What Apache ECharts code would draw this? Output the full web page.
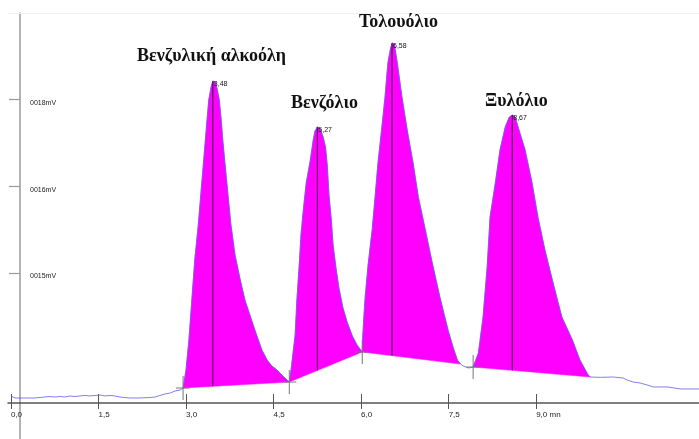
<!DOCTYPE html>
<html><head><meta charset="utf-8">
<script src="https://cdn.jsdelivr.net/npm/echarts@6/dist/echarts.min.js"></script>
<style>html,body{margin:0;padding:0;background:#fff}#c{width:699px;height:439px}</style>
</head><body><div id="c"></div>
<script>
// retention time (min) of the detector trace
const times = [
  0.00,0.07,0.24,0.41,0.58,0.67,0.75,0.84,0.93,1.01,1.10,1.18,1.27,1.35,1.44,1.53,1.61,1.70,1.78,1.87,1.95,2.04,2.21,2.38,2.47,2.55,2.64,2.73,2.81,2.90,
  2.95,3.00,3.05,3.10,3.15,3.21,3.26,3.31,3.36,3.39,3.43,3.46,3.50,3.53,3.57,3.60,3.63,3.67,3.72,3.77,3.84,3.93,4.01,4.10,4.18,4.30,4.39,4.47,4.56,4.66,
  4.77,4.80,4.83,4.87,4.90,4.94,4.97,5.01,5.06,5.13,5.18,5.21,5.25,5.30,5.35,5.39,5.42,5.45,5.49,5.52,5.57,5.62,5.69,5.76,5.85,5.93,
  6.02,6.03,6.05,6.07,6.12,6.19,6.24,6.29,6.36,6.41,6.46,6.50,6.53,6.57,6.62,6.70,6.79,6.89,6.98,7.10,7.22,7.35,7.49,7.58,7.65,
  7.70,7.75,7.84,
  7.92,8.01,8.09,8.16,8.21,8.30,8.38,8.47,8.54,8.59,8.64,8.69,8.81,8.93,9.03,9.15,9.29,9.44,9.62,9.75,9.89,
  9.93,10.10,10.32,10.49,10.56,10.66,10.78,10.90,11.01,11.25,11.47,11.69,11.79
];
// detector signal (axis units)
const signal = [
  0.081,0.058,0.058,0.058,0.069,0.075,0.069,0.075,0.069,0.081,0.075,0.081,0.087,0.081,0.087,0.092,0.081,0.087,0.081,0.069,0.063,0.058,0.058,0.063,0.069,0.087,0.104,0.115,0.138,0.150,
  0.173,0.381,0.727,1.188,1.650,2.054,2.458,2.861,3.265,3.496,3.646,3.715,3.704,3.635,3.496,3.288,3.035,2.746,2.400,2.054,1.708,1.419,1.188,1.004,0.842,0.612,0.496,0.427,0.381,0.312,
  0.242,0.381,0.554,0.785,1.188,1.592,1.938,2.227,2.538,2.804,3.035,3.138,3.185,3.162,3.069,2.954,2.746,2.400,2.111,1.823,1.558,1.327,1.096,0.935,0.773,0.669,
  0.588,0.785,1.015,1.223,1.592,2.000,2.381,2.773,3.208,3.531,3.927,4.077,4.154,4.142,3.927,3.531,3.150,2.773,2.381,2.000,1.615,1.223,0.842,0.635,0.496,
  0.450,0.427,0.404,
  0.415,0.577,0.992,1.569,2.146,2.538,2.919,3.185,3.300,3.323,3.300,3.185,2.919,2.538,2.146,1.765,1.385,0.992,0.727,0.496,0.323,
  0.300,0.296,0.300,0.288,0.265,0.242,0.231,0.208,0.185,0.185,0.162,0.162,0.162
];
const peakStart = [2.95, 4.77, 6.02, 7.92];
const peakEnd   = [4.77, 6.02, 7.70, 9.93];
const peakApex  = [3.46, 5.25, 6.53, 8.59];
const peakRT    = ['3,48', '5,27', '6,58', '8,67'];
const peakNames = ['Βενζυλική αλκοόλη', 'Βενζόλιο', 'Τολουόλιο', 'Ξυλόλιο'];
const boundaryMarks = [2.95, 4.77, 6.02, 7.92];
const xTickValues = [0, 1.5, 3, 4.5, 6, 7.5, 9];
const xTickLabels = ['0,0', '1,5', '3,0', '4,5', '6,0', '7,5', '9,0 mn'];
const yTickValues = [1.5, 2.5, 3.5];
const yTickLabels = ['0015mV', '0016mV', '0018mV'];

// layout of the compound names (pixels)
const nameLayout = [[137, 56], [291, 103], [359, 22], [485, 101]];

function idxOf(t) {
  let best = 0;
  for (let i = 0; i < times.length; i++) if (Math.abs(times[i] - t) < Math.abs(times[best] - t)) best = i;
  return best;
}
function sigAt(t) { return signal[idxOf(t)]; }

const chart = echarts.init(document.getElementById('c'), null, {renderer: 'canvas'});
const tracePairs = times.map((t, i) => [t, signal[i]]);
const labelFont = '"Liberation Sans Narrow","Liberation Sans",sans-serif';
const X_MIN = -0.05, X_MAX = 11.79, Y_MIN = 0, Y_MAX = 4.5;
const fmt = (vals, labs) => v => { const k = vals.findIndex(x => Math.abs(x - v) < 1e-6); return k >= 0 ? labs[k] : ''; };

chart.setOption({
  animation: false,
  backgroundColor: '#fff',
  grid: [
    {left: 8, right: 0, top: 13, bottom: 36, containLabel: false, outerBoundsMode: 'none',
     show: true, borderWidth: 0, backgroundColor: 'transparent'},
    {left: 8, right: 0, top: 13, bottom: 36, containLabel: false, outerBoundsMode: 'none'},
    {left: 8, right: 0, top: 403, bottom: 0, containLabel: false, outerBoundsMode: 'none'},
    {left: 8, right: 0, top: 13, bottom: 36, containLabel: false, outerBoundsMode: 'none'}
  ],
  xAxis: [{
    gridIndex: 0, type: 'value', min: X_MIN, max: X_MAX, position: 'bottom',
    axisLine: {onZero: false, lineStyle: {color: '#555', width: 1.5}},
    axisTick: {customValues: xTickValues, length: 6, lineStyle: {color: '#555', width: 1}},
    axisLabel: {customValues: xTickValues, align: 'left', margin: 8, fontSize: 8,
      fontFamily: labelFont, color: '#222', formatter: fmt(xTickValues, xTickLabels)},
    splitLine: {show: false}
  }, {
    gridIndex: 1, type: 'value', min: X_MIN, max: X_MAX, position: 'bottom',
    axisLine: {show: false, onZero: false},
    axisTick: {customValues: xTickValues, inside: true, length: 9, lineStyle: {color: '#555', width: 1}},
    axisLabel: {show: false}, splitLine: {show: false}
  }, {
    gridIndex: 2, type: 'value', min: X_MIN, max: X_MAX, show: false
  }, {
    gridIndex: 3, type: 'value', min: X_MIN, max: X_MAX, position: 'top',
    axisLine: {onZero: false, lineStyle: {color: '#f1f1f1', width: 1}},
    axisTick: {show: false}, axisLabel: {show: false}, splitLine: {show: false}
  }],
  yAxis: [{
    gridIndex: 0, type: 'value', min: Y_MIN, max: Y_MAX, position: 'left', offset: -12,
    axisLine: {onZero: false, lineStyle: {color: '#9a9a9a', width: 1.5}},
    axisTick: {customValues: yTickValues, length: 11, lineStyle: {color: '#9a9a9a', width: 1.2}},
    axisLabel: {customValues: yTickValues, inside: true, margin: 10, fontSize: 7, verticalAlign: 'top',
      fontFamily: labelFont, color: '#222', formatter: fmt(yTickValues, yTickLabels)},
    splitLine: {show: false}
  }, {
    gridIndex: 1, type: 'value', min: Y_MIN, max: Y_MAX, show: false
  }, {
    gridIndex: 2, type: 'value', min: 0, max: 1, position: 'left', offset: -12,
    axisLine: {onZero: false, lineStyle: {color: '#9a9a9a', width: 1.5}},
    axisTick: {show: false}, axisLabel: {show: false}, splitLine: {show: false}
  }, {
    gridIndex: 3, type: 'value', min: Y_MIN, max: Y_MAX, show: false
  }],
  graphic: peakNames.map((n, i) => ({
    type: 'text', x: nameLayout[i][0], y: nameLayout[i][1], z: 100,
    style: {text: n, font: 'bold 18px "Liberation Serif", "DejaVu Serif", serif', fill: '#111', verticalAlign: 'middle'}
  })),
  series: [
    { // filled peaks
      type: 'custom', z: 2, xAxisIndex: 0, yAxisIndex: 0,
      data: peakStart.map((s, i) => [s, peakEnd[i]]),
      renderItem: (params, api) => {
        const t0 = api.value(0), t1 = api.value(1);
        const pts = [];
        for (let i = 0; i < times.length; i++)
          if (times[i] >= t0 - 1e-9 && times[i] <= t1 + 1e-9) pts.push(api.coord([times[i], signal[i]]));
        return {type: 'polygon', shape: {points: pts}, style: {fill: '#ff00ff', stroke: '#ff00ff', lineWidth: 0.5}};
      }
    },
    { // detector trace
      type: 'line', z: 3, xAxisIndex: 0, yAxisIndex: 0, data: tracePairs, showSymbol: false, symbol: 'none',
      lineStyle: {color: '#5f5ff0', width: 1, opacity: 0.8}
    },
    { // apex drop lines and retention time labels
      type: 'custom', z: 4, xAxisIndex: 0, yAxisIndex: 0,
      data: peakApex.map((a, i) => [a, peakStart[i], peakEnd[i], i]),
      renderItem: (params, api) => {
        const a = api.value(0), s = api.value(1), e = api.value(2), k = api.value(3);
        const ys = sigAt(s), ye = sigAt(e);
        const base = ys + (ye - ys) * (a - s) / (e - s);
        const top = api.coord([a, sigAt(a)]);
        const bot = api.coord([a, base]);
        return {type: 'group', children: [
          {type: 'line', shape: {x1: top[0], y1: top[1], x2: bot[0], y2: bot[1]}, style: {stroke: '#3b103b', lineWidth: 1}},
          {type: 'text', x: top[0] + 1, y: top[1] + 3,
           style: {text: peakRT[k], font: '7px ' + labelFont, fill: '#111', verticalAlign: 'middle'}}
        ]};
      }
    },
    { // integration boundary marks
      type: 'custom', z: 5, xAxisIndex: 0, yAxisIndex: 0,
      data: boundaryMarks.map(t => [t]),
      renderItem: (params, api) => {
        const t = api.value(0);
        const p = api.coord([t, sigAt(t)]);
        return {type: 'group', children: [
          {type: 'line', shape: {x1: p[0], y1: p[1] - 12, x2: p[0], y2: p[1] + 12}, style: {stroke: '#777', lineWidth: 1}},
          {type: 'line', shape: {x1: p[0] - 7, y1: p[1], x2: p[0] + 7, y2: p[1]}, style: {stroke: '#777', lineWidth: 1}}
        ]};
      }
    }
  ]
});
</script>
</body></html>
